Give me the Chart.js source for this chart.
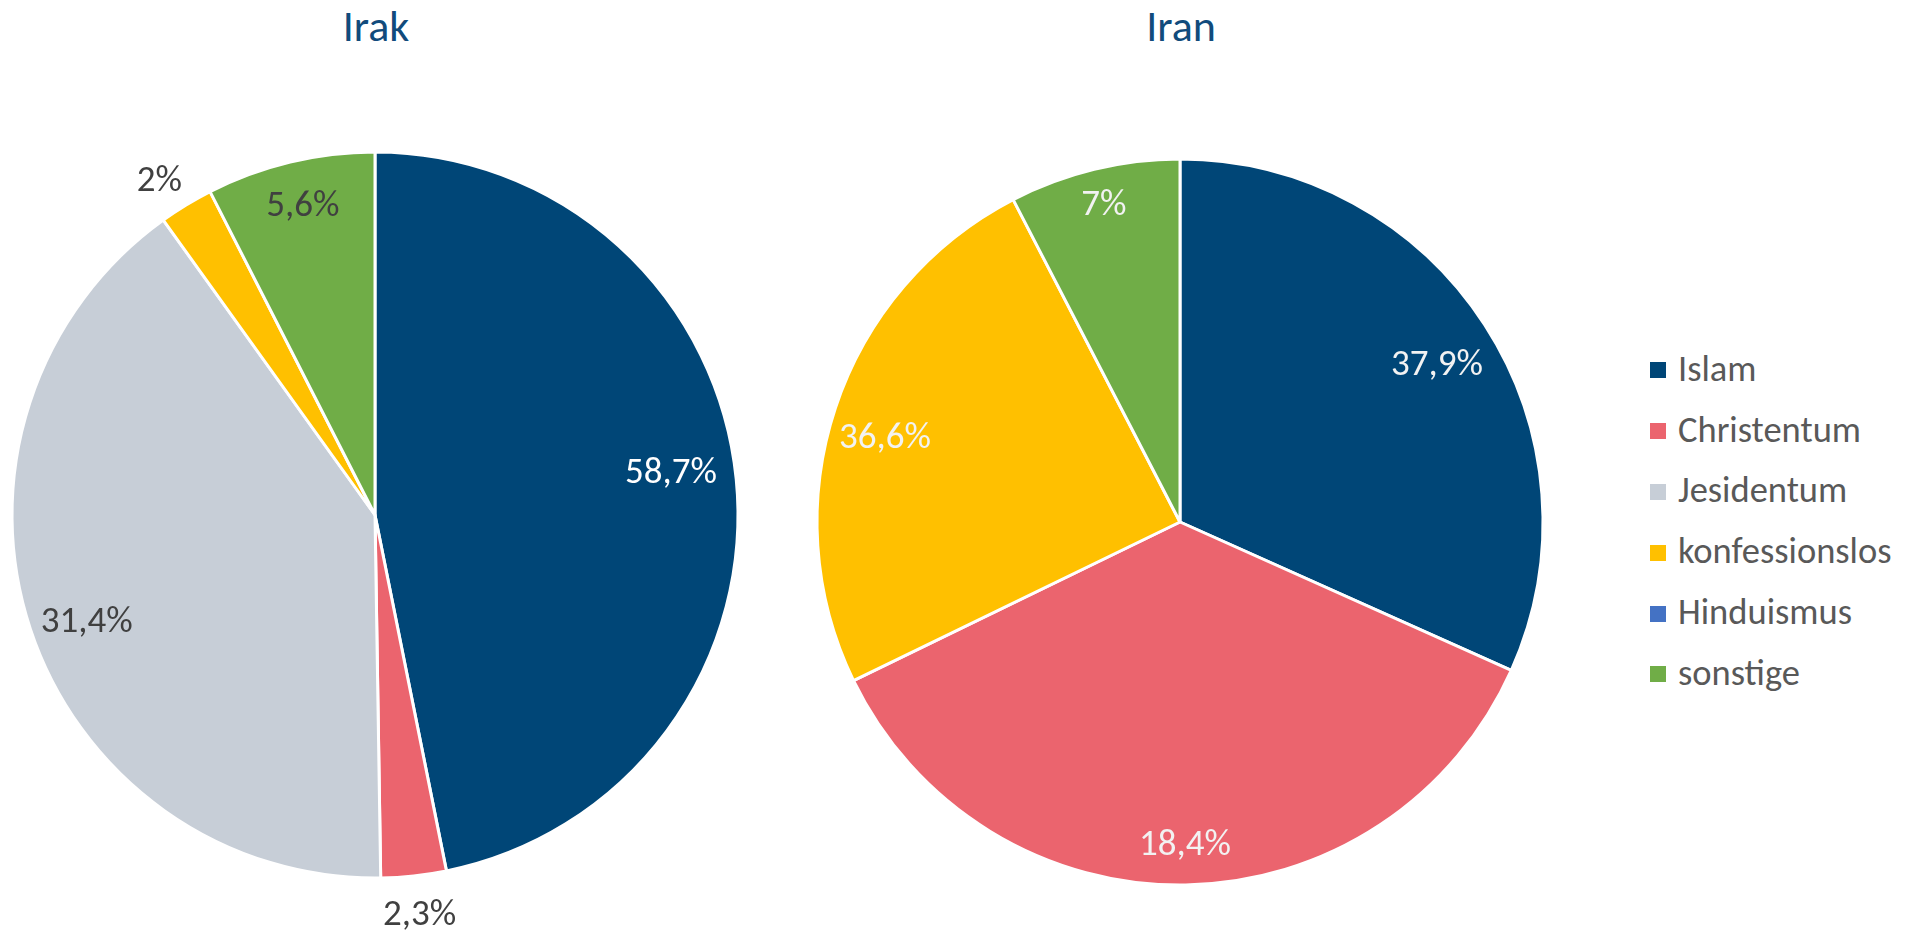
<!DOCTYPE html>
<html lang="de">
<head>
<meta charset="utf-8">
<title>Religionen Irak / Iran</title>
<script src="https://cdn.jsdelivr.net/npm/chart.js@4.4.0/dist/chart.umd.min.js"></script>
<style>
  html, body { margin: 0; padding: 0; background: #fff; }
  body { width: 1908px; height: 932px; position: relative; overflow: hidden;
         font-family: Carlito, Calibri, Lato, sans-serif; }
  canvas { position: absolute; }
  .title { position: absolute; top: 0; font-size: 44px; color: #114b7c;
           width: 300px; text-align: center; line-height: 52px; }
  #legend { position: absolute; left: 1650px; top: 338px; }
  .row { display: flex; align-items: center; height: 60.8px; }
  .box { width: 16px; height: 16px; margin-right: 12px; margin-top: 4px; }
  .row span { font-size: 36.5px; color: #595959; }
</style>
</head>
<body>
<div class="title" style="left:226px">Irak</div>
<div class="title" style="left:1031px">Iran</div>
<canvas id="irakChart" style="left:0;top:0"></canvas>
<canvas id="iranChart" style="left:800px;top:0"></canvas>
<div id="legend"></div>

<script>
// Kategorien und Farben
const religions = ['Islam', 'Christentum', 'Jesidentum', 'konfessionslos', 'Hinduismus', 'sonstige'];
const colors = ['#004677', '#eb646e', '#c7ced7', '#ffc000', '#4472c4', '#70ad47'];

// Irak: Sektorgrößen (aus dem Bild gemessen) und angezeigte Beschriftungen
const irakValues = [46.8, 2.9, 40.3, 2.4, 0, 7.5];
const irakLabels = ['58,7%', '2,3%', '31,4%', '2%', '', '5,6%'];

// Iran
const iranValues = [31.7, 36.1, 0, 24.6, 0, 7.6];
const iranLabels = ['37,9%', '18,4%', '', '36,6%', '', '7%'];

// Legende
const legend = document.getElementById('legend');
religions.forEach((r, i) => {
  const row = document.createElement('div');
  row.className = 'row';
  row.innerHTML = `<div class="box" style="background:${colors[i]}"></div><span>${r}</span>`;
  legend.appendChild(row);
});

// kleines Plugin für die Datenbeschriftungen
// dist = Abstand in Radien, shift = Winkelkorrektur in Grad
const sliceLabels = {
  id: 'sliceLabels',
  afterDatasetsDraw(chart, args, opts) {
    const ctx = chart.ctx;
    const meta = chart.getDatasetMeta(0);
    ctx.save();
    ctx.font = opts.size + 'px ' + opts.family;
    ctx.textAlign = 'center';
    ctx.textBaseline = 'alphabetic';
    meta.data.forEach((arc, i) => {
      const text = opts.texts[i];
      if (!text) return;
      const mid = (arc.startAngle + arc.endAngle) / 2 + opts.shift[i] * Math.PI / 180;
      const r = arc.outerRadius * opts.dist[i];
      ctx.fillStyle = opts.colors[i];
      ctx.fillText(text, arc.x + Math.cos(mid) * r, arc.y + Math.sin(mid) * r + opts.size * 0.36);
    });
    ctx.restore();
  }
};

function makePie(id, width, values, labelOpts, padding) {
  const canvas = document.getElementById(id);
  canvas.style.width = width + 'px';
  canvas.style.height = '932px';
  canvas.width = width;
  canvas.height = 932;
  return new Chart(canvas, {
    type: 'pie',
    data: {
      labels: religions,
      datasets: [{
        data: values,
        backgroundColor: colors,
        borderColor: '#ffffff',
        borderWidth: 3
      }]
    },
    options: {
      responsive: false,
      animation: false,
      layout: { padding },
      plugins: {
        legend: { display: false },
        tooltip: { enabled: false },
        sliceLabels: labelOpts
      }
    },
    plugins: [sliceLabels]
  });
}

const labelFamily = 'Carlito, Calibri, Lato, sans-serif';

makePie('irakChart', 760, irakValues, {
  size: 37,
  family: labelFamily,
  texts: irakLabels,
  dist: [0.825, 1.1, 0.844, 1.104, 0, 0.883],
  shift: [-3.1, -0.3, -1.5, -1.2, 0, 0.5],
  colors: ['#ffffff', '#404040', '#404040', '#404040', '#404040', '#404040']
}, { left: 10.5, right: 20.5, top: 150.5, bottom: 52.5 });

makePie('iranChart', 760, iranValues, {
  size: 37,
  family: labelFamily,
  texts: iranLabels,
  dist: [0.834, 0.882, 0, 0.848, 0, 0.906],
  shift: [1.0, 0, 0, -1.8, 0, 0.3],
  colors: ['#f2f2f2', '#f2f2f2', '#f2f2f2', '#f2f2f2', '#f2f2f2', '#f2f2f2']
}, { left: 15.5, right: 15.5, top: 157.5, bottom: 45.5 });
</script>
</body>
</html>
